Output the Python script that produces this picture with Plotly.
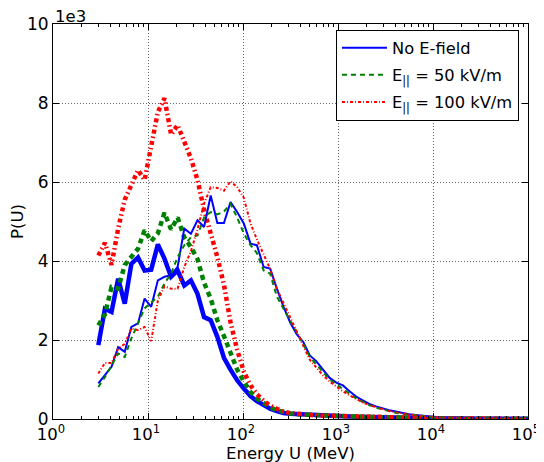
import plotly.graph_objects as go

# Energy grid (MeV)
energy = [3.00, 3.52, 4.13, 4.85, 5.69, 6.68, 7.85, 9.21, 10.8, 12.7,
          14.9, 17.5, 20.5, 24.1, 28.3, 33.2, 38.9, 45.7, 53.7, 63.0,
          73.9, 86.8, 102, 120, 140, 165, 193, 227, 266, 313,
          367, 431, 505, 593, 696, 817, 960, 1126, 1322, 1551,
          1821, 2138, 2509, 2945, 3456, 4057, 4762, 5589, 6561, 7700,
          9040, 10610, 12450, 14620, 17160, 20140, 23640, 27750, 32570, 38230,
          44870, 52670, 61830, 72570, 85180, 100000]

# thick curves (x1e3)
blue_thick = [1.87, 2.79, 2.71, 3.55, 2.92, 3.93, 4.09, 3.76, 3.78, 4.42,
              4.06, 3.60, 3.76, 3.38, 3.51, 3.17, 2.58, 2.50, 2.08, 1.55,
              1.25, 0.98, 0.77, 0.58, 0.45, 0.35, 0.26, 0.20, 0.15, 0.13,
              0.12, 0.11, 0.10, 0.09, 0.085, 0.08, 0.075, 0.07, 0.065, 0.06,
              0.055, 0.05, 0.045, 0.04, 0.036, 0.032, 0.029, 0.026, 0.023, 0.021,
              0.019, 0.017, 0.015, 0.014, 0.013, 0.012, 0.011, 0.010, 0.009, 0.008,
              0.008, 0.007, 0.007, 0.006, 0.006, 0.005]
green_thick = [2.37, 2.65, 3.34, 3.30, 3.90, 4.10, 4.31, 4.78, 4.50, 4.70,
               5.22, 4.80, 5.10, 4.60, 4.35, 4.05, 3.45, 3.05, 2.50, 2.10,
               1.65, 1.25, 0.95, 0.68, 0.52, 0.40, 0.30, 0.22, 0.17, 0.14,
               0.12, 0.11, 0.10, 0.09, 0.085, 0.08, 0.075, 0.07, 0.065, 0.06,
               0.055, 0.05, 0.045, 0.04, 0.036, 0.032, 0.029, 0.026, 0.023, 0.021,
               0.019, 0.017, 0.015, 0.014, 0.013, 0.012, 0.011, 0.010, 0.009, 0.008,
               0.008, 0.007, 0.007, 0.006, 0.006, 0.005]
red_thick = [4.14, 4.46, 3.90, 4.82, 5.55, 5.96, 6.30, 6.05, 6.90, 7.77,
             8.12, 7.20, 7.44, 7.05, 6.60, 6.05, 5.30, 4.70, 4.10, 3.40,
             2.45, 1.75, 1.20, 0.85, 0.63, 0.46, 0.34, 0.26, 0.19, 0.15,
             0.13, 0.11, 0.10, 0.09, 0.085, 0.08, 0.075, 0.07, 0.065, 0.06,
             0.055, 0.05, 0.045, 0.04, 0.036, 0.032, 0.029, 0.026, 0.023, 0.021,
             0.019, 0.017, 0.015, 0.014, 0.013, 0.012, 0.011, 0.010, 0.009, 0.008,
             0.008, 0.007, 0.007, 0.006, 0.006, 0.005]

# thin curves (x1e3)
blue_thin = [0.90, 1.10, 1.32, 1.82, 1.70, 2.33, 2.42, 3.05, 2.84, 3.51,
             3.60, 3.64, 3.85, 4.82, 4.69, 5.03, 4.86, 5.66, 4.96, 4.96,
             5.49, 5.24, 4.95, 4.44, 4.40, 3.85, 3.81, 3.30, 2.85, 2.45,
             2.15, 1.95, 1.61, 1.46, 1.25, 1.04, 0.92, 0.85, 0.70, 0.57,
             0.47, 0.38, 0.32, 0.27, 0.22, 0.19, 0.15, 0.12, 0.10, 0.08,
             0.06, 0.05, 0.04, 0.035, 0.03, 0.025, 0.02, 0.018, 0.015, 0.013,
             0.011, 0.010, 0.009, 0.008, 0.007, 0.006]
green_thin = [0.81, 1.06, 1.35, 1.66, 1.57, 2.04, 2.42, 2.80, 2.95, 3.09,
              3.43, 3.68, 4.10, 4.40, 4.60, 4.65, 5.10, 5.24, 5.18, 5.25,
              5.45, 5.10, 4.70, 4.40, 4.20, 3.76, 3.68, 3.10, 2.80, 2.50,
              2.20, 1.90, 1.57, 1.38, 1.20, 1.00, 0.88, 0.75, 0.64, 0.52,
              0.43, 0.35, 0.29, 0.24, 0.20, 0.16, 0.13, 0.11, 0.09, 0.07,
              0.055, 0.045, 0.038, 0.032, 0.027, 0.022, 0.019, 0.016, 0.014, 0.012,
              0.010, 0.009, 0.008, 0.007, 0.006, 0.005]
red_thin = [1.15, 1.42, 1.42, 1.78, 1.90, 2.29, 2.25, 2.33, 1.97, 3.00,
            3.36, 3.30, 3.30, 3.85, 4.25, 4.80, 5.45, 5.87, 5.85, 5.78,
            6.02, 5.87, 5.60, 4.95, 4.55, 4.15, 3.80, 3.30, 2.95, 2.55,
            2.20, 1.85, 1.50, 1.30, 1.10, 0.95, 0.82, 0.70, 0.60, 0.50,
            0.42, 0.35, 0.29, 0.25, 0.20, 0.17, 0.14, 0.11, 0.09, 0.07,
            0.055, 0.045, 0.038, 0.032, 0.027, 0.022, 0.019, 0.016, 0.014, 0.012,
            0.010, 0.009, 0.008, 0.007, 0.006, 0.005]

legend_names = ["No E-field", "E<sub>||</sub> = 50 kV/m", "E<sub>||</sub> = 100 kV/m"]
x_tickvals = [1, 10, 100, 1000, 10000, 100000]
x_ticktext = ["10<sup>0</sup>", "10<sup>1</sup>", "10<sup>2</sup>",
              "10<sup>3</sup>", "10<sup>4</sup>", "10<sup>5</sup>"]
y_tickvals = [0, 2, 4, 6, 8, 10]

BLUE, GREEN, RED = "#0000ff", "#008000", "#ff0000"
FONT = "DejaVu Sans"

fig = go.Figure()

thick = [(blue_thick, BLUE, "solid"),
         (green_thick, GREEN, "5px,4px"),
         (red_thick, RED, "4px,3px,1.5px,3px")]
thin = [(blue_thin, BLUE, "solid", legend_names[0]),
        (green_thin, GREEN, "5px,4px", legend_names[1]),
        (red_thin, RED, "3px,2px,1px,2px", legend_names[2])]

for ys, col, dash in thick:
    fig.add_trace(go.Scatter(x=energy, y=ys, mode="lines", showlegend=False,
                             line=dict(color=col, width=4.5, dash=dash)))
for k, (ys, col, dash, name) in enumerate(thin):
    fig.add_trace(go.Scatter(x=energy, y=ys, mode="lines", name=name,
                             legendgroup="g%d" % k,
                             line=dict(color=col, width=2, dash=dash)))

minor_vals = [m * 10 ** k for k in range(0, 5) for m in range(2, 10)]

# page body has an 8px margin, so the figure is offset by 8px
fig.update_layout(
    width=544, height=462,
    margin=dict(l=45, r=24, t=16, b=51),
    paper_bgcolor="white", plot_bgcolor="white",
    font=dict(family=FONT, size=16, color="black"),
    legend=dict(x=0.981, y=0.986, xanchor="right", yanchor="top",
                bordercolor="black", borderwidth=1, bgcolor="white",
                font=dict(family=FONT, size=16.3), itemwidth=45,
                tracegroupgap=3, traceorder="grouped"),
    xaxis=dict(type="log", range=[0, 5], tickmode="array",
               tickvals=x_tickvals, ticktext=x_ticktext,
               ticks="inside", ticklen=6, tickcolor="black",
               showline=True, linecolor="black", linewidth=1, mirror="allticks",
               showgrid=True, gridcolor="rgba(0,0,0,0.6)", griddash="1px,2px", gridwidth=1,
               minor=dict(tickmode="array", tickvals=minor_vals, ticks="inside",
                          ticklen=3, tickcolor="black", showgrid=False),
               title=dict(text="Energy U (MeV)", standoff=2,
                          font=dict(family=FONT, size=16.5)),
               ticklabelshift=-2,
               tickfont=dict(family=FONT, size=16.5), automargin=False, zeroline=False),
    yaxis=dict(range=[0, 10], tickmode="array", tickvals=y_tickvals,
               ticks="inside", ticklen=6, tickcolor="black",
               showline=True, linecolor="black", linewidth=1, mirror="allticks",
               showgrid=True, gridcolor="rgba(0,0,0,0.6)", griddash="1px,2px", gridwidth=1,
               title=dict(text="P(U)", standoff=6, font=dict(family=FONT, size=16.5)),
               tickfont=dict(family=FONT, size=17), automargin=False, zeroline=False),
    annotations=[dict(text="1e3", x=0, y=1, xref="paper", yref="paper",
                      xanchor="left", yanchor="bottom", showarrow=False,
                      font=dict(family=FONT, size=16.5), yshift=-4)],
)

fig.write_html("out.html")
